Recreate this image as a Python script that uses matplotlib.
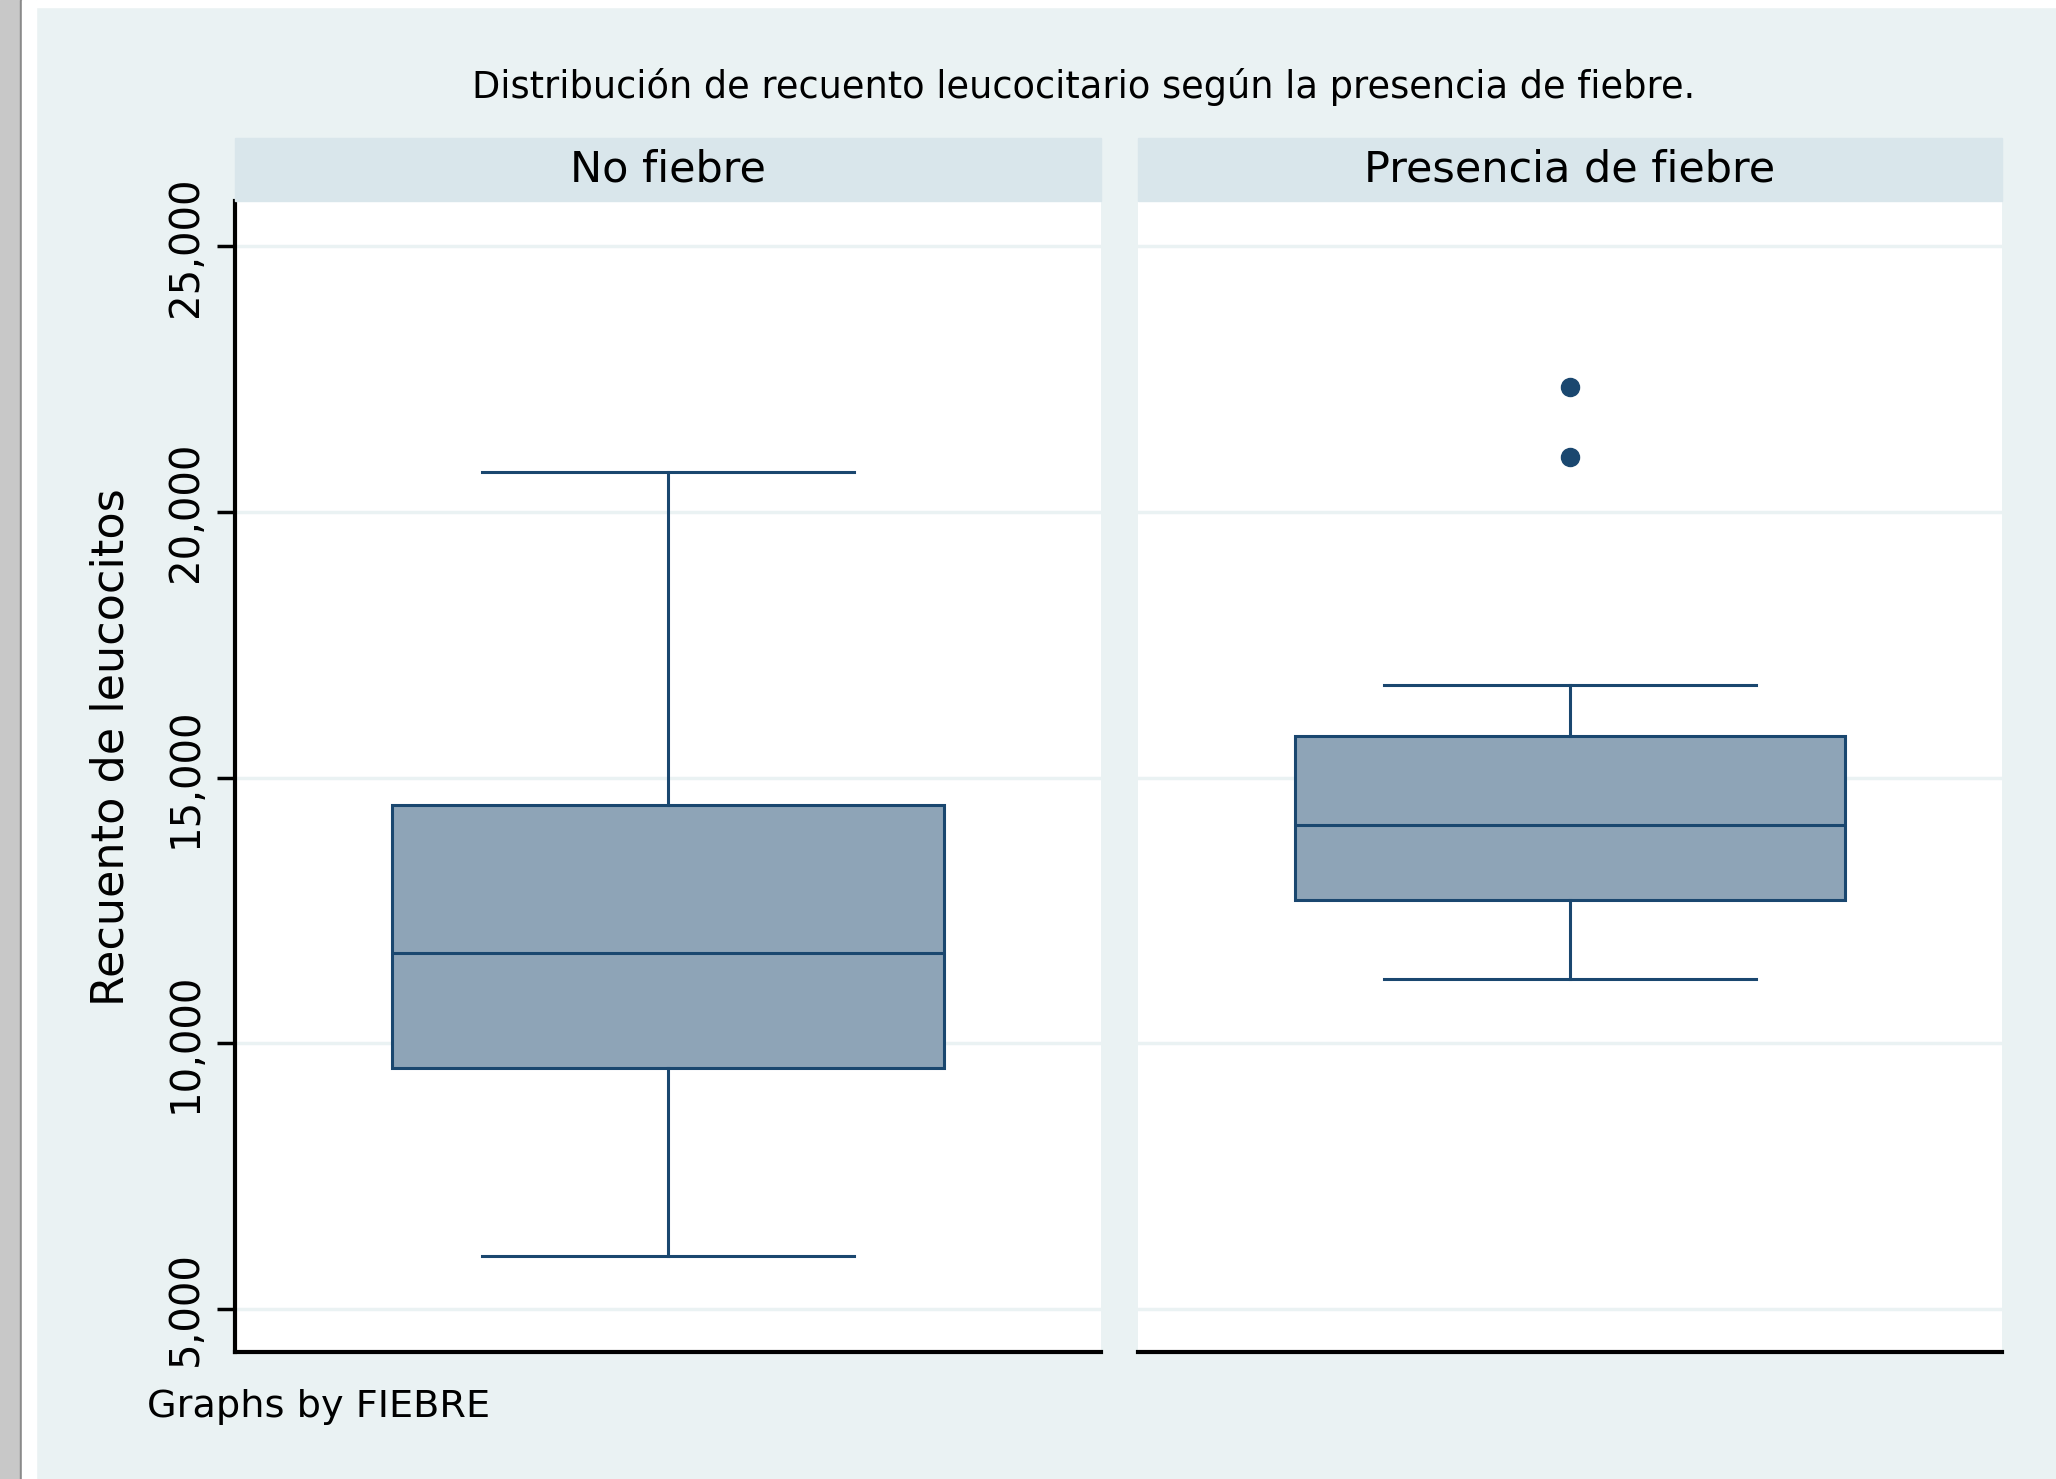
import matplotlib
matplotlib.use('Agg')
import matplotlib.pyplot as plt
from matplotlib.patches import Rectangle

# resumen de las cajas
grupos = ['No fiebre', 'Presencia de fiebre']
bigote_inf = [5990, 11200]
q1 = [9540, 12700]
mediana = [11690, 14110]
q3 = [14480, 15790]
bigote_sup = [20750, 16750]
atipicos = [[], [22360, 21030]]

yticks = [5000, 10000, 15000, 20000, 25000]
ytick_labels = ['5,000', '10,000', '15,000', '20,000', '25,000']

fondo = '#eaf2f3'
franja = '#d9e6eb'
azul = '#1a476f'
relleno = '#8ea4b7'

plt.rcParams['font.family'] = ['DejaVu Sans']

fig = plt.figure(figsize=(20.56, 14.79), dpi=100)
fig.patch.set_facecolor(fondo)

# marco de la ventana (borde gris a la izquierda, blanco arriba)
fig.patches.append(Rectangle((0, 0), 20/2056, 1, transform=fig.transFigure, color='#c8c8c8', zorder=0))
fig.patches.append(Rectangle((20/2056, 0), 2/2056, 1, transform=fig.transFigure, color='#8a8a8a', zorder=0))
fig.patches.append(Rectangle((22/2056, 0), 14/2056, 1, transform=fig.transFigure, color='white', zorder=0))
fig.patches.append(Rectangle((36/2056, 1 - 7/1479), 1, 7/1479, transform=fig.transFigure, color='white', zorder=0))

posiciones = [[0.1143, 0.0859, 0.4212, 0.7785], [0.5535, 0.0859, 0.4202, 0.7785]]

for i, nombre in enumerate(grupos):
    ax = fig.add_axes(posiciones[i])
    ax.set_facecolor('white')
    stats = [{
        'whislo': bigote_inf[i], 'q1': q1[i], 'med': mediana[i],
        'q3': q3[i], 'whishi': bigote_sup[i], 'fliers': atipicos[i],
    }]
    ax.bxp(stats, positions=[0], widths=0.637, capwidths=0.43,
           patch_artist=True,
           boxprops=dict(facecolor=relleno, edgecolor=azul, linewidth=2.2),
           medianprops=dict(color=azul, linewidth=2.2),
           whiskerprops=dict(color=azul, linewidth=2.2),
           capprops=dict(color=azul, linewidth=2.2),
           flierprops=dict(marker='o', markerfacecolor=azul, markeredgecolor=azul, markersize=13))
    ax.set_xlim(-0.5, 0.5)
    ax.set_ylim(4185, 25864)
    ax.set_xticks([])
    ax.set_yticks(yticks)
    ax.yaxis.grid(True, color=fondo, linewidth=2.5)
    ax.set_axisbelow(True)
    for s in ['top', 'right']:
        ax.spines[s].set_visible(False)
    ax.spines['bottom'].set_linewidth(3)
    ax.spines['bottom'].set_color('black')
    if i == 0:
        ax.spines['left'].set_linewidth(3)
        ax.set_yticklabels(ytick_labels, rotation=90, va='center', fontsize=29)
        ax.tick_params(axis='y', length=13, width=2.5, pad=8)
        ax.set_ylabel('Recuento de leucocitos', fontsize=32)
        ax.yaxis.set_label_coords(-0.118, 0.525)
    else:
        ax.spines['left'].set_visible(False)
        ax.tick_params(axis='y', length=0, labelleft=False)
    # franja de titulo del panel
    ax.add_patch(Rectangle((0, 1.0), 1, 0.0544, transform=ax.transAxes, color=franja,
                           clip_on=False, zorder=3))
    ax.text(0.5, 1.0272, nombre, transform=ax.transAxes, ha='center', va='center',
            fontsize=31, zorder=4)

fig.text(0.527, 1 - 86.5/1479, 'Distribución de recuento leucocitario según la presencia de fiebre.',
         ha='center', va='center', fontsize=26.5)
fig.text(147/2056, 1 - 1407/1479, 'Graphs by FIEBRE', ha='left', va='center', fontsize=27.5)

fig.savefig('out.png', dpi=100, facecolor=fig.get_facecolor())
